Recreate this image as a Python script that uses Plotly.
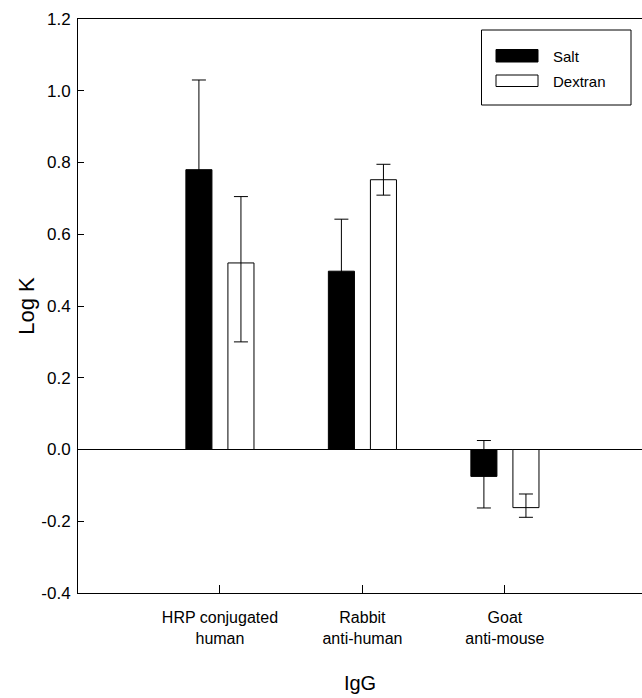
import plotly.graph_objects as go

categories = ["HRP conjugated<br>human", "Rabbit<br>anti-human", "Goat<br>anti-mouse"]
salt_values = [0.78, 0.497, -0.075]
salt_err_plus = [0.25, 0.145, 0.10]
salt_err_minus = [0.25, 0.145, 0.088]
dextran_values = [0.52, 0.752, -0.162]
dextran_err_plus = [0.185, 0.043, 0.038]
dextran_err_minus = [0.22, 0.043, 0.027]
series_names = ["Salt", "Dextran"]
y_ticks = [-0.4, -0.2, 0.0, 0.2, 0.4, 0.6, 0.8, 1.0, 1.2]

W, H = 642, 698
L, R, T, B = 78, 0, 19, 105
pw, ph = W - L - R, H - T - B

def px(xs):
    return (xs - L) / pw

def py(ys):
    return (H - B - ys) / ph

FONT = "Liberation Sans, Arial, sans-serif"

fig = go.Figure()
fig.add_trace(go.Bar(
    x=categories, y=salt_values, name=series_names[0],
    marker=dict(color="black", line=dict(color="black", width=1)),
    error_y=dict(type="data", symmetric=False, array=salt_err_plus,
                 arrayminus=salt_err_minus, color="black", thickness=1, width=7),
    showlegend=False,
))
fig.add_trace(go.Bar(
    x=categories, y=dextran_values, name=series_names[1],
    marker=dict(color="white", line=dict(color="black", width=1)),
    error_y=dict(type="data", symmetric=False, array=dextran_err_plus,
                 arrayminus=dextran_err_minus, color="black", thickness=1, width=7),
    showlegend=False,
))

# legend drawn as a box with swatches
shapes = [
    dict(type="rect", xref="paper", yref="paper", x0=px(481.5), x1=px(631), y0=py(30), y1=py(105),
         line=dict(color="black", width=1), fillcolor="white"),
    dict(type="rect", xref="paper", yref="paper", x0=px(496), x1=px(538), y0=py(49.5), y1=py(62),
         line=dict(color="black", width=1), fillcolor="black"),
    dict(type="rect", xref="paper", yref="paper", x0=px(496), x1=px(538), y0=py(75), y1=py(86.5),
         line=dict(color="black", width=1), fillcolor="white"),
]
annotations = [
    dict(text=series_names[0], xref="paper", yref="paper", x=px(551), y=py(56.5),
         xanchor="left", yanchor="middle", showarrow=False, font=dict(family=FONT, size=15, color="black")),
    dict(text=series_names[1], xref="paper", yref="paper", x=px(551), y=py(81),
         xanchor="left", yanchor="middle", showarrow=False, font=dict(family=FONT, size=15, color="black")),
]

fig.update_layout(
    width=W, height=H,
    margin=dict(l=L, r=R, t=T, b=B, pad=0),
    paper_bgcolor="white", plot_bgcolor="white",
    barmode="group", bargap=0.41, bargroupgap=0.38,
    font=dict(family=FONT, size=16, color="black"),
    shapes=shapes, annotations=annotations,
    xaxis=dict(
        type="category", range=[-0.996, 2.962],
        showline=True, linecolor="black", linewidth=1, mirror=True,
        ticks="inside", ticklen=8, tickcolor="black", tickwidth=1,
        showgrid=False, zeroline=False,
        tickfont=dict(family=FONT, size=16),
        ticklabelstandoff=10,
        title=dict(text="IgG", font=dict(family=FONT, size=20), standoff=29),
    ),
    yaxis=dict(
        range=[-0.4, 1.2], tickvals=y_ticks, ticktext=[f"{v:.1f}" for v in y_ticks],
        showline=True, linecolor="black", linewidth=1,
        ticks="inside", ticklen=6, tickcolor="black", tickwidth=1,
        showgrid=False, zeroline=True, zerolinecolor="black", zerolinewidth=1,
        tickfont=dict(family=FONT, size=17),
        ticklabelstandoff=3,
        title=dict(text="Log K", font=dict(family=FONT, size=22), standoff=0),
    ),
)

fig.write_html(
    "out.html",
    config={"displayModeBar": False},
    post_script="document.body.style.margin='0';document.body.style.overflow='hidden';",
)
